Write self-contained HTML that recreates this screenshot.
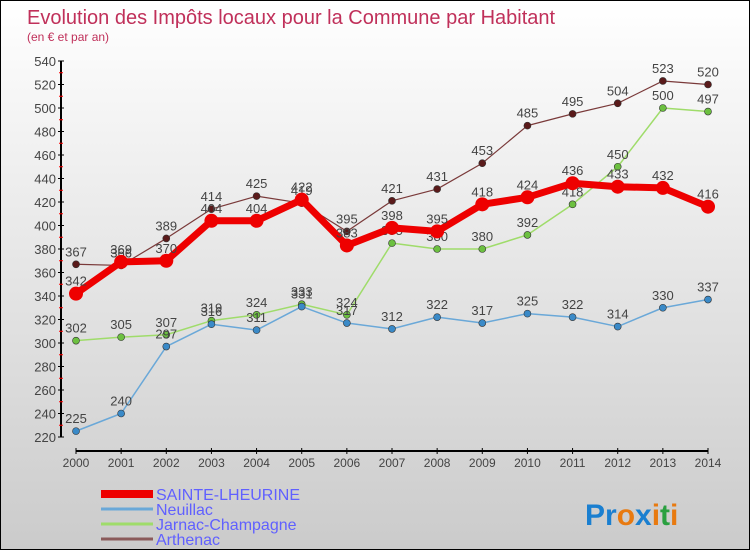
<!DOCTYPE html>
<html><head><meta charset="utf-8"><style>
body{margin:0}
#wrap{width:750px;height:550px;position:relative;overflow:hidden;box-sizing:border-box;border:1px solid #000;background:linear-gradient(#fff,#cbcbcb);font-family:"Liberation Sans",sans-serif}
</style></head><body>
<div id="wrap">
<svg id="svg" width="750" height="550" style="position:absolute;left:0;top:0">
<text x="26" y="23" font-size="20" fill="#c0305a">Evolution des Impôts locaux pour la Commune par Habitant</text>
<text x="26" y="40" font-size="12" fill="#c0305a">(en € et par an)</text>
<g id="g"></g>
<text x="584" y="524" font-size="30" font-weight="bold"><tspan fill="#1a7fd0">Pr</tspan><tspan fill="#e87a10">o</tspan><tspan fill="#1a7fd0">x</tspan><tspan fill="#e87a10">i</tspan><tspan fill="#2aa040">t</tspan><tspan fill="#e87a10">i</tspan></text>
</svg>
</div>
<script>
const years=[2000,2001,2002,2003,2004,2005,2006,2007,2008,2009,2010,2011,2012,2013,2014];
const yTicks=[220,240,260,280,300,320,340,360,380,400,420,440,460,480,500,520,540];
const sainte=[342,369,370,404,404,422,383,398,395,418,424,436,433,432,416];
const neuillac=[225,240,297,316,311,331,317,312,322,317,325,322,314,330,337];
const jarnac=[302,305,307,319,324,333,324,385,380,380,392,418,450,500,497];
const arthenac=[367,366,389,414,425,419,395,421,431,453,485,495,504,523,520];
const NS="http://www.w3.org/2000/svg";
const g=document.getElementById('g');
const X=i=>75+i*(707-75)/(years.length-1);
const Y=v=>60+(540-v)*(436-60)/(540-220);
function el(t,a,name){const e=document.createElementNS(NS,t);for(const k in a)e.setAttribute(k,a[k]);


g.appendChild(e);return e;}
el('line',{x1:60,y1:Y(540),x2:60,y2:Y(220),stroke:'#000','stroke-width':2},'y-axis');
yTicks.forEach(v=>{el('line',{x1:57,x2:63,y1:Y(v),y2:Y(v),stroke:'#000'},'y-tick');
if(v>220)el('line',{x1:58,x2:62,y1:Y(v)+11.75,y2:Y(v)+11.75,stroke:'red'},'y-minor-tick');
const t=el('text',{x:55,y:Y(v)+5,'text-anchor':'end','font-size':13,fill:'#444'},'y-tick-label');t.textContent=v;});
el('line',{x1:75,y1:450,x2:707,y2:450,stroke:'#000','stroke-width':2},'x-axis');
years.forEach((y,i)=>{el('line',{x1:X(i),x2:X(i),y1:447,y2:453,stroke:'#000'},'x-tick');
const t=el('text',{x:X(i),y:466,'text-anchor':'middle','font-size':12,fill:'#444'},'x-tick-label');t.textContent=y;});
function series(d,col,w,r,fill,name){
el('polyline',{points:d.map((v,i)=>X(i)+','+Y(v)).join(' '),fill:'none',stroke:col,'stroke-width':w,'stroke-linejoin':'round'},name+'-line');
d.forEach((v,i)=>{el('circle',{cx:X(i),cy:Y(v),r:r,fill:fill,stroke:'#333','stroke-width':r>5?0:0.6},name+'-point');
const t=el('text',{x:X(i),y:Y(v)-8,'text-anchor':'middle','font-size':13,fill:'#444'},name+'-value');t.textContent=v;});}
series(arthenac,'#7a3a3a',1.2,3.5,'#5a1a1a','arthenac');
series(jarnac,'#9fdc6a',1.5,3.5,'#6cc040','jarnac');
series(neuillac,'#6aa8d8',1.5,3.5,'#3a8ac8','neuillac');
series(sainte,'#ee0000',7,7,'#ee0000','sainte-lheurine');
const leg=[['SAINTE-LHEURINE','#ee0000',8],['Neuillac','#6aa8d8',3],['Jarnac-Champagne','#9fdc6a',3],['Arthenac','#8a5a5a',3]];
leg.forEach((l,i)=>{const y=493+i*15;
el('line',{x1:100,x2:152,y1:y,y2:y,stroke:l[1],'stroke-width':l[2]},'legend-swatch');
const t=el('text',{x:155,y:y+6,'font-size':16,fill:'#6060ff'},'legend-entry');t.textContent=l[0];});
</script>
</body></html>
